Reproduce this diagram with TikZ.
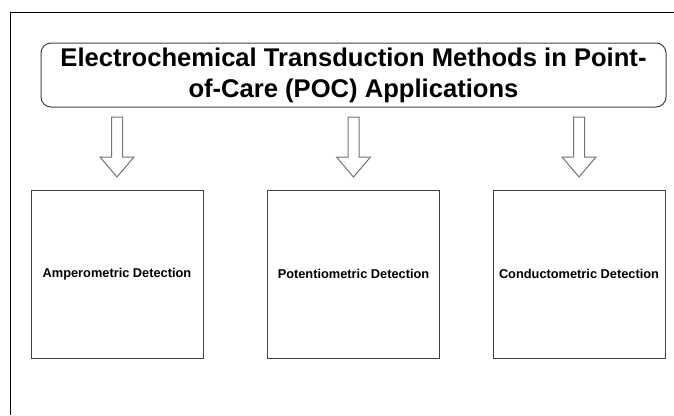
\documentclass[tikz,border=0pt]{standalone}
\usepackage{fontspec}
\setmainfont{Liberation Sans}
\begin{document}
\begin{tikzpicture}[x=1pt,y=-1pt,
  titlebox/.style={draw=black!75, rounded corners=10pt, line width=1pt,
    minimum width=625pt, minimum height=64pt, align=center, inner sep=0pt,
    font=\fontsize{25.6}{31}\selectfont\bfseries},
  detbox/.style={draw=black!75, line width=1pt, minimum width=172pt,
    minimum height=168pt, inner sep=0pt,
    font=\fontsize{12.8}{15}\selectfont\bfseries},
  blockarrow/.style={draw=black!55, line width=1pt, fill=white, line join=miter},
  frameline/.style={draw=black, line width=1pt}]
\useasboundingbox (0,0) rectangle (674,415);
\coordinate (fb) at (10,415);
\coordinate (ftl) at (10,12);
\coordinate (fr) at (674,12);
\draw[frameline] (fb) -- (ftl) -- (fr);

\node[titlebox] (title) at (353.5,75)
  {Electrochemical Transduction Methods in Point-\\of-Care (POC) Applications};

\node[detbox] (amp) at (117,274) {Amperometric Detection};
\node[detbox] (pot) at (353.5,274) {Potentiometric Detection};
\node[detbox] (con) at (579,274) {Conductometric Detection};

\coordinate (a1) at (117,117);
\coordinate (a2) at (353.5,117);
\coordinate (a3) at (579,117);
\foreach \a in {a1,a2,a3}{
  \draw[blockarrow] (\a) ++(-5.5,0) -- ++(11,0) -- ++(0,40) -- ++(11.5,0)
    -- ++(-17,20) -- ++(-17,-20) -- ++(11.5,0) -- cycle;
}
\end{tikzpicture}
\end{document}
